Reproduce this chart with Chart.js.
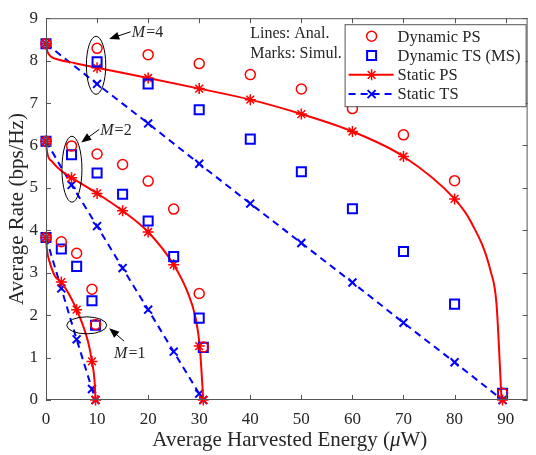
<!DOCTYPE html>
<html>
<head>
<meta charset="utf-8">
<script src="https://cdn.jsdelivr.net/npm/chart.js@4/dist/chart.umd.min.js"></script>
<style>
html,body{margin:0;padding:0;background:#fff}
</style>
</head>
<body>
<canvas id="chart" width="536" height="455"></canvas>
<script>
// tick labels
const xTicks = [0,10,20,30,40,50,60,70,80,90]
const yTicks = [0,1,2,3,4,5,6,7,8,9]

// M = 4
const energyM4 = [0,10,20,30,40,50,60,70,80,89.4]
const dynPS_M4 = [8.4,8.29,8.14,7.93,7.67,7.33,6.87,6.25,5.17,0.16]
const dynTS_M4 = [8.4,7.97,7.45,6.84,6.15,5.38,4.51,3.50,2.26,0.16]
const staticPS_M4 = [8.4,7.83,7.59,7.34,7.08,6.74,6.33,5.74,4.74,0]
const staticTS_M4 = [8.4,7.45,6.52,5.57,4.63,3.70,2.77,1.82,0.89,0]

// M = 2
const energyM2 = [0,5,10,15,20,25,30,30.8]
const dynPS_M2 = [6.1,5.99,5.80,5.55,5.16,4.50,2.51,1.25]
const dynTS_M2 = [6.1,5.78,5.35,4.85,4.22,3.38,1.93,1.24]
const staticPS_M2 = [6.1,5.24,4.87,4.46,3.96,3.19,1.27,0]
const staticTS_M2 = [6.1,5.07,4.10,3.11,2.13,1.14,0.15,0]

// M = 1
const energyM1 = [0,3,6,9,9.7]
const dynPS_M1 = [3.83,3.73,3.46,2.61,1.78]
const dynTS_M1 = [3.83,3.56,3.15,2.34,1.76]
const staticPS_M1 = [3.83,2.78,2.13,0.91,0]
const staticTS_M1 = [3.83,2.63,1.43,0.26,0]

// analytic Static PS curves
const curveM4_x = [0,0.2,0.5,1,2.5,5.7,10,20,30,40,50,60,70,80,83.3,87.1,88.2,89.2]
const curveM4_y = [8.4,8.25,8.16,8.09,8.02,7.94,7.83,7.59,7.34,7.08,6.74,6.33,5.74,4.74,4.18,3.02,2.28,0]
const curveM2_x = [0,0.2,1.2,3.1,5,10,15,20,25,27.7,29.3,30.1,30.8]
const curveM2_y = [6.1,5.85,5.62,5.39,5.24,4.87,4.46,3.96,3.19,2.55,1.93,1.27,0]
const curveM1_x = [0,0.2,0.8,1.8,3,6,8.2,9,9.5,9.7]
const curveM1_y = [3.83,3.53,3.22,2.91,2.78,2.13,1.39,0.91,0.46,0]

const RED = '#ff0000'
const BLUE = '#0000ff'
const TXT = '#262626'
const SERIF = '"Liberation Serif", "Times New Roman", serif'

const pts = (xs, ys) => xs.map((x, i) => ({x: x, y: ys[i]}))

const circleStyle = {showLine:false, pointStyle:'circle', pointRadius:5, borderColor:RED, backgroundColor:'rgba(0,0,0,0)', pointBorderWidth:1.5, clip:false}
const squareStyle = {showLine:false, pointStyle:'rect', pointRadius:6.4, borderColor:BLUE, backgroundColor:'rgba(0,0,0,0)', pointBorderWidth:2, clip:false}
const starStyle = {showLine:false, pointStyle:'star', pointRadius:5.5, borderColor:RED, backgroundColor:RED, pointBorderWidth:1.5, clip:false}
const curveStyle = {pointRadius:0, borderColor:RED, borderWidth:2, cubicInterpolationMode:'monotone', fill:false, clip:false}
const tsStyle = {pointStyle:'crossRot', pointRadius:5.6, borderColor:BLUE, backgroundColor:BLUE, pointBorderWidth:2, borderWidth:2, borderDash:[7,5], fill:false, clip:false}

const datasets = []
;[[energyM4,dynPS_M4,dynTS_M4,staticPS_M4,staticTS_M4,curveM4_x,curveM4_y],
  [energyM2,dynPS_M2,dynTS_M2,staticPS_M2,staticTS_M2,curveM2_x,curveM2_y],
  [energyM1,dynPS_M1,dynTS_M1,staticPS_M1,staticTS_M1,curveM1_x,curveM1_y]].forEach(g=>{
    datasets.push(Object.assign({label:'Dynamic PS', data:pts(g[0],g[1])}, circleStyle))
    datasets.push(Object.assign({label:'Dynamic TS (MS)', data:pts(g[0],g[2])}, squareStyle))
    datasets.push(Object.assign({label:'Static PS', data:pts(g[0],g[3])}, starStyle))
    datasets.push(Object.assign({label:'Static PS line', data:pts(g[5],g[6])}, curveStyle))
    datasets.push(Object.assign({label:'Static TS', data:pts(g[0],g[4])}, tsStyle))
})

// M labels, ellipses and arrows, in data units
const marks = [
    {m:'4', text:[16.8,8.65], from:[16.56,8.68], to:[12.37,8.51], ell:[9.8,7.89], rx:9.7, ry:29},
    {m:'2', text:[10.63,6.34], from:[10.43,6.38], to:[6.9,6.07], ell:[5.08,5.44], rx:10, ry:33},
    {m:'1', text:[13.33,1.10], from:[15.27,1.39], to:[12.37,1.69], ell:[7.98,1.76], rx:20, ry:8.5}
]

function drawMarker(ctx, style, x, y){
    ctx.save()
    ctx.beginPath()
    if(style=='circle'){
        ctx.strokeStyle=RED; ctx.lineWidth=1.5
        ctx.arc(x,y,5,0,Math.PI*2)
    } else if(style=='rect'){
        ctx.strokeStyle=BLUE; ctx.lineWidth=2
        ctx.rect(x-4.5,y-4.5,9,9)
    } else if(style=='star'){
        ctx.strokeStyle=RED; ctx.lineWidth=1.5
        for(let k=0;k<4;k++){
            const a=k*Math.PI/4
            ctx.moveTo(x-5.5*Math.cos(a),y-5.5*Math.sin(a))
            ctx.lineTo(x+5.5*Math.cos(a),y+5.5*Math.sin(a))
        }
    } else {
        ctx.strokeStyle=BLUE; ctx.lineWidth=2
        ctx.moveTo(x-4,y-4); ctx.lineTo(x+4,y+4)
        ctx.moveTo(x+4,y-4); ctx.lineTo(x-4,y+4)
    }
    ctx.stroke()
    ctx.restore()
}

const extras = {
    id:'extras',
    afterDraw(chart){
        const ctx = chart.ctx
        const a = chart.chartArea
        const xs = chart.scales.x, ys = chart.scales.y
        ctx.save()

        // box and inward ticks
        ctx.strokeStyle='#555'
        ctx.lineWidth=1
        ctx.strokeRect(a.left+0.5,a.top+0.5,a.right-a.left-1,a.bottom-a.top-1)
        ctx.beginPath()
        xTicks.forEach(v=>{
            const p=Math.round(xs.getPixelForValue(v))+0.5
            ctx.moveTo(p,a.bottom); ctx.lineTo(p,a.bottom-5)
            ctx.moveTo(p,a.top); ctx.lineTo(p,a.top+5)
        })
        yTicks.forEach(v=>{
            const p=Math.round(ys.getPixelForValue(v))+0.5
            ctx.moveTo(a.left,p); ctx.lineTo(a.left+5,p)
            ctx.moveTo(a.right,p); ctx.lineTo(a.right-5,p)
        })
        ctx.stroke()

        // M annotations
        ctx.strokeStyle='#000'; ctx.fillStyle='#000'; ctx.lineWidth=1
        marks.forEach(k=>{
            const cx=xs.getPixelForValue(k.ell[0]), cy=ys.getPixelForValue(k.ell[1])
            ctx.beginPath()
            ctx.ellipse(cx,cy,k.rx,k.ry,0,0,Math.PI*2)
            ctx.stroke()
            const x1=xs.getPixelForValue(k.from[0]), y1=ys.getPixelForValue(k.from[1])
            const x2=xs.getPixelForValue(k.to[0]), y2=ys.getPixelForValue(k.to[1])
            const ang=Math.atan2(y2-y1,x2-x1)
            ctx.beginPath()
            ctx.moveTo(x1,y1); ctx.lineTo(x2-7*Math.cos(ang),y2-7*Math.sin(ang))
            ctx.stroke()
            ctx.beginPath()
            ctx.moveTo(x2,y2)
            ctx.lineTo(x2-10*Math.cos(ang)+4*Math.sin(ang),y2-10*Math.sin(ang)-4*Math.cos(ang))
            ctx.lineTo(x2-10*Math.cos(ang)-4*Math.sin(ang),y2-10*Math.sin(ang)+4*Math.cos(ang))
            ctx.closePath(); ctx.fill()
            const tx=xs.getPixelForValue(k.text[0]), ty=ys.getPixelForValue(k.text[1])
            ctx.fillStyle=TXT
            ctx.textBaseline='middle'; ctx.textAlign='left'
            ctx.font='italic 16px '+SERIF
            ctx.fillText('M',tx,ty)
            const w=ctx.measureText('M').width
            ctx.font='16px '+SERIF
            ctx.fillText('='+k.m,tx+w+1,ty)
            ctx.fillStyle='#000'
        })

        // Lines / Marks note
        ctx.fillStyle=TXT
        ctx.font='16px '+SERIF
        ctx.textBaseline='middle'
        ctx.fillText('Lines: Anal.',xs.getPixelForValue(40),ys.getPixelForValue(8.63))
        ctx.fillText('Marks: Simul.',xs.getPixelForValue(40),ys.getPixelForValue(8.17))

        // legend
        const L=a.right-183, T=a.top+6
        ctx.fillStyle='#fff'
        ctx.fillRect(L,T,181,82)
        ctx.strokeStyle='#555'; ctx.lineWidth=1
        ctx.strokeRect(L+0.5,T+0.5,181,82)
        const items=[['Dynamic PS','circle',false],['Dynamic TS (MS)','rect',false],['Static PS','star','solid'],['Static TS','x','dash']]
        items.forEach((it,i)=>{
            const y=T+12+i*19.3
            const mx=L+27
            if(it[2]){
                ctx.save()
                ctx.beginPath()
                ctx.strokeStyle=it[2]=='solid'?RED:BLUE
                ctx.lineWidth=2
                if(it[2]=='dash') ctx.setLineDash([7,5])
                ctx.moveTo(L+4,y); ctx.lineTo(L+49,y)
                ctx.stroke()
                ctx.restore()
            }
            drawMarker(ctx,it[1],mx,y)
            ctx.fillStyle=TXT
            ctx.font='16.5px '+SERIF
            ctx.textBaseline='middle'; ctx.textAlign='left'
            ctx.fillText(it[0],L+53,y+1)
        })

        // axis titles
        ctx.fillStyle=TXT
        ctx.font='21px '+SERIF
        ctx.textBaseline='alphabetic'
        const p1='Average Harvested Energy (', p3='W)'
        ctx.font='21px '+SERIF
        const w1=ctx.measureText(p1).width, w3=ctx.measureText(p3).width
        ctx.font='italic 21px '+SERIF
        const w2=ctx.measureText('\u03bc').width
        let sx=(a.left+a.right)/2-(w1+w2+w3)/2+3
        ctx.font='21px '+SERIF
        ctx.fillText(p1,sx,446)
        ctx.font='italic 21px '+SERIF
        ctx.fillText('\u03bc',sx+w1,446)
        ctx.font='21px '+SERIF
        ctx.fillText(p3,sx+w1+w2,446)

        ctx.save()
        ctx.translate(23,(a.top+a.bottom)/2)
        ctx.rotate(-Math.PI/2)
        ctx.textAlign='center'
        ctx.fillText('Average Rate (bps/Hz)',0,0)
        ctx.restore()

        ctx.restore()
    }
}

new Chart(document.getElementById('chart').getContext('2d'), {
    type:'line',
    data:{datasets},
    options:{
        responsive:false,
        animation:false,
        devicePixelRatio:1,
        parsing:true,
        layout:{padding:{top:12,right:2,left:0,bottom:0}},
        plugins:{legend:{display:false}, tooltip:{enabled:false}},
        scales:{
            x:{
                type:'linear', min:0, max:94.3,
                afterBuildTicks: s=>{ s.ticks = xTicks.map(v=>({value:v})) },
                afterFit: s=>{ s.height = 55 },
                grid:{display:false, drawTicks:false},
                border:{display:false},
                ticks:{color:TXT, font:{family:SERIF, size:17}, padding:9, maxRotation:0}
            },
            y:{
                type:'linear', min:0, max:9,
                afterBuildTicks: s=>{ s.ticks = yTicks.map(v=>({value:v})) },
                afterFit: s=>{ s.width = 46 },
                grid:{display:false, drawTicks:false},
                border:{display:false},
                ticks:{color:TXT, font:{family:SERIF, size:17}, padding:8}
            }
        }
    },
    plugins:[extras]
})
</script>
</body>
</html>
